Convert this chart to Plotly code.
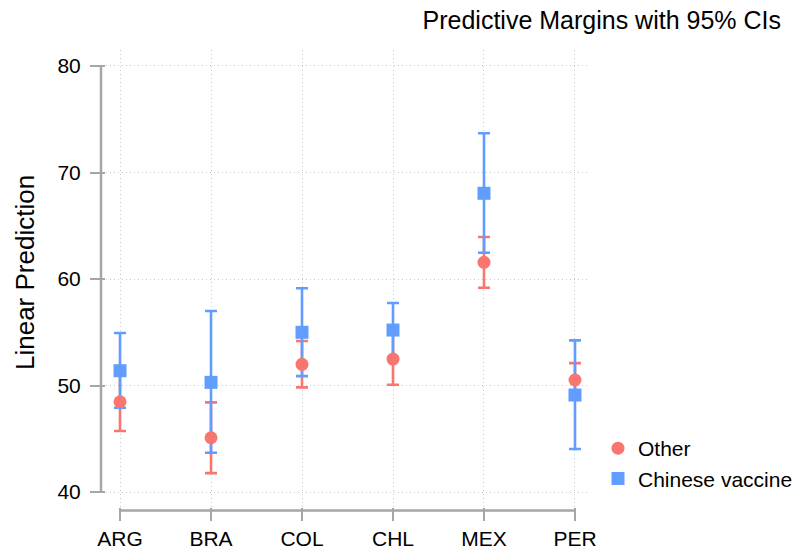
import plotly.graph_objects as go

countries = ["ARG", "BRA", "COL", "CHL", "MEX", "PER"]

other_mean = [48.48, 45.10, 51.99, 52.49, 61.57, 50.52]
other_lo = [45.73, 41.78, 49.83, 50.08, 59.18, 48.90]
other_hi = [51.23, 48.42, 54.18, 54.90, 63.94, 52.11]

chinese_mean = [51.39, 50.30, 55.00, 55.21, 68.05, 49.11]
chinese_lo = [47.92, 43.69, 50.89, 52.67, 62.47, 44.04]
chinese_hi = [54.93, 57.00, 59.13, 57.75, 73.68, 54.24]

y_ticks = [40, 50, 60, 70, 80]

RED = "#F8766D"
BLUE = "#619CFF"
AXIS = "#a6a6a6"
GRID = "#c8c8c8"
FONT = "Liberation Sans, Arial, sans-serif"

xs = list(range(len(countries)))


def err(mean, lo, hi, color):
    return dict(
        type="data", symmetric=False,
        array=[h - m for h, m in zip(hi, mean)],
        arrayminus=[m - l for m, l in zip(mean, lo)],
        color=color, thickness=2.6, width=6,
    )


fig = go.Figure()
# error bars first (red under blue), markers on top
fig.add_trace(go.Scatter(x=xs, y=other_mean, mode="markers", showlegend=False,
                         marker=dict(color="rgba(0,0,0,0)", size=1),
                         error_y=err(other_mean, other_lo, other_hi, RED), hoverinfo="skip"))
fig.add_trace(go.Scatter(x=xs, y=chinese_mean, mode="markers", showlegend=False,
                         marker=dict(color="rgba(0,0,0,0)", size=1),
                         error_y=err(chinese_mean, chinese_lo, chinese_hi, BLUE), hoverinfo="skip"))
fig.add_trace(go.Scatter(x=xs, y=other_mean, mode="markers", name="Other",
                         marker=dict(color=RED, size=13, symbol="circle")))
fig.add_trace(go.Scatter(x=xs, y=chinese_mean, mode="markers", name="Chinese vaccine",
                         marker=dict(color=BLUE, size=13, symbol="square")))

L, R, T, B = 106, 209, 50, 45
W, H = 799, 552
pw, ph = W - L - R, H - T - B

fig.update_layout(
    width=W, height=H,
    margin=dict(l=L, r=R, t=T, b=B, autoexpand=False),
    paper_bgcolor="white", plot_bgcolor="white",
    font=dict(family=FONT, color="black", size=21),
    title=dict(text="Predictive Margins with 95% CIs", x=781 / W, xanchor="right",
               xref="container", y=1 - 20 / H, yanchor="middle", yref="container",
               font=dict(size=25)),
    showlegend=True,
    legend=dict(xref="container", yref="container", x=598 / W, xanchor="left",
                y=1 - 428 / H, yanchor="top",
                bgcolor="rgba(0,0,0,0)", font=dict(size=21), tracegroupgap=0),
    xaxis=dict(
        range=[-0.154, 5.165], tickmode="array", tickvals=xs, ticktext=countries,
        showgrid=True, gridcolor=GRID, griddash="1px,3px", gridwidth=1,
        zeroline=False, showline=False, automargin=False,
        ticks="outside", ticklen=13, tickwidth=2, tickcolor=AXIS,
        tickfont=dict(size=21), ticklabelstandoff=0,
    ),
    yaxis=dict(
        range=[38.6, 81.5], tickmode="array", tickvals=y_ticks,
        showgrid=True, gridcolor=GRID, griddash="1px,3px", gridwidth=1,
        zeroline=False, showline=False, automargin=False,
        ticks="outside", ticklen=15, tickwidth=2, tickcolor=AXIS,
        tickfont=dict(size=21), ticklabelstandoff=5,
    ),
    shapes=[
        dict(type="line", xref="x", yref="paper", x0=xs[0], x1=xs[-1],
             y0=-3.5 / ph, y1=-3.5 / ph, line=dict(color=AXIS, width=2.5)),
        dict(type="line", xref="paper", yref="y", x0=-5 / pw, x1=-5 / pw,
             y0=y_ticks[0], y1=y_ticks[-1], line=dict(color=AXIS, width=2.5)),
    ],
    annotations=[
        dict(text="Linear Prediction", textangle=-90, xref="paper", yref="paper",
             x=(25 - L) / pw, y=(H - B - 273) / ph, xanchor="center", yanchor="middle",
             showarrow=False, font=dict(size=26)),
    ],
)

fig.write_html("out.html")
